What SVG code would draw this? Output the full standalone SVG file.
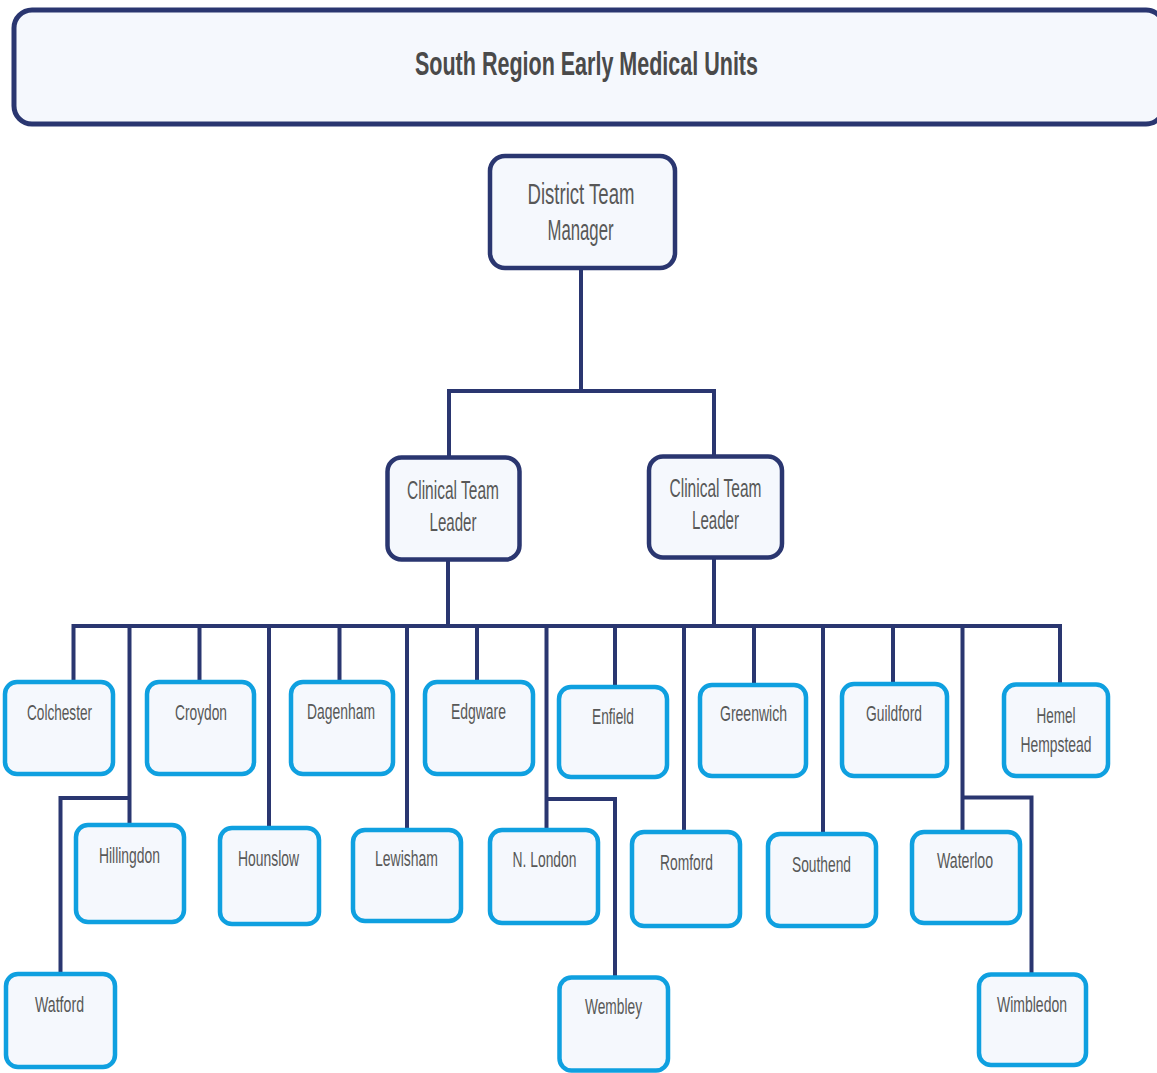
<svg xmlns="http://www.w3.org/2000/svg" width="1157" height="1073" viewBox="0 0 1157 1073">
<style>
.bg{fill:#ffffff}
.title{fill:#f5f8fd;stroke:#2a3670;stroke-width:5}
.mgr{fill:#f5f8fd;stroke:#2a3670;stroke-width:4.5}
.unit{fill:#f5f8fd;stroke:#0fa0e0;stroke-width:4.5}
.t{font-family:"Liberation Sans",Arial,sans-serif;fill:#585858;text-anchor:middle}
.tt{font-size:34px;font-weight:bold;fill:#4a4a4a}
.tm{font-size:30px}
.tl{font-size:26px}
.tu{font-size:22px}
.conn{fill:none;stroke:#2a3670;stroke-width:4;stroke-linejoin:miter}
</style>
<rect class="bg" x="0" y="0" width="1157" height="1073"/>
<g id="title">
<rect class="title" x="14" y="10" width="1150" height="114" rx="18"/>
<text class="t tt" x="586.5" y="75" textLength="343" lengthAdjust="spacingAndGlyphs">South Region Early Medical Units</text>
</g>
<g id="connectors">
<path class="conn" d="M581 268 V391 M449 391 H714 M449 389 V457 M714 389 V456"/>
<path class="conn" d="M448 560 V626 M714 558 V626 M73 626 H1061"/>
<path class="conn" d="M73.5 624 V682 M199.5 624 V682 M339.5 624 V682 M477 624 V682 M615 624 V687 M754 624 V685 M893 624 V684 M1060 624 V684"/>
<path class="conn" d="M269 624 V828 M407 624 V830 M684 624 V832 M823 624 V834"/>
<path class="conn" d="M129.5 624 V825 M131.5 798 H60.5 V974"/>
<path class="conn" d="M546.5 624 V830 M544.5 799 H615 V977"/>
<path class="conn" d="M962.5 624 V832 M960.5 797.5 H1031.5 V974"/>
</g>
<g id="district-team-manager">
<rect class="mgr" x="490" y="156" width="185" height="112" rx="15"/>
<text class="t tm" x="581" y="204" textLength="107" lengthAdjust="spacingAndGlyphs">District Team</text>
<text class="t tm" x="580.5" y="240" textLength="66" lengthAdjust="spacingAndGlyphs">Manager</text>
</g>
<g id="clinical-team-leader-1">
<rect class="mgr" x="387.5" y="457.5" width="132" height="102" rx="14"/>
<text class="t tl" x="453" y="499" textLength="92" lengthAdjust="spacingAndGlyphs">Clinical Team</text>
<text class="t tl" x="453" y="531" textLength="47" lengthAdjust="spacingAndGlyphs">Leader</text>
</g>
<g id="clinical-team-leader-2">
<rect class="mgr" x="649" y="456.5" width="133" height="101" rx="14"/>
<text class="t tl" x="715.5" y="497" textLength="92" lengthAdjust="spacingAndGlyphs">Clinical Team</text>
<text class="t tl" x="715.5" y="529" textLength="47" lengthAdjust="spacingAndGlyphs">Leader</text>
</g>
<g id="colchester">
<rect class="unit" x="5" y="682" width="108" height="92" rx="12"/>
<text class="t tu" x="59.5" y="720" textLength="65" lengthAdjust="spacingAndGlyphs">Colchester</text>
</g>
<g id="croydon">
<rect class="unit" x="147" y="682" width="107" height="92" rx="12"/>
<text class="t tu" x="201" y="720" textLength="52" lengthAdjust="spacingAndGlyphs">Croydon</text>
</g>
<g id="dagenham">
<rect class="unit" x="291" y="682" width="102" height="92" rx="12"/>
<text class="t tu" x="341" y="719" textLength="68" lengthAdjust="spacingAndGlyphs">Dagenham</text>
</g>
<g id="edgware">
<rect class="unit" x="425" y="682" width="108" height="92" rx="12"/>
<text class="t tu" x="478.5" y="719" textLength="55" lengthAdjust="spacingAndGlyphs">Edgware</text>
</g>
<g id="enfield">
<rect class="unit" x="559" y="687" width="108" height="90" rx="12"/>
<text class="t tu" x="613" y="724" textLength="42" lengthAdjust="spacingAndGlyphs">Enfield</text>
</g>
<g id="greenwich">
<rect class="unit" x="700" y="685" width="106" height="91" rx="12"/>
<text class="t tu" x="753.5" y="721" textLength="67" lengthAdjust="spacingAndGlyphs">Greenwich</text>
</g>
<g id="guildford">
<rect class="unit" x="842" y="684" width="105" height="92" rx="12"/>
<text class="t tu" x="894" y="721" textLength="56" lengthAdjust="spacingAndGlyphs">Guildford</text>
</g>
<g id="hemel-hempstead">
<rect class="unit" x="1004" y="684.5" width="104" height="91.5" rx="12"/>
<text class="t tu" x="1056" y="723" textLength="39" lengthAdjust="spacingAndGlyphs">Hemel</text>
<text class="t tu" x="1056" y="752" textLength="71" lengthAdjust="spacingAndGlyphs">Hempstead</text>
</g>
<g id="hillingdon">
<rect class="unit" x="76" y="825" width="108" height="97" rx="12"/>
<text class="t tu" x="129.5" y="863" textLength="61" lengthAdjust="spacingAndGlyphs">Hillingdon</text>
</g>
<g id="hounslow">
<rect class="unit" x="220" y="828" width="99" height="96" rx="12"/>
<text class="t tu" x="268.5" y="866" textLength="61" lengthAdjust="spacingAndGlyphs">Hounslow</text>
</g>
<g id="lewisham">
<rect class="unit" x="353" y="830" width="108" height="91" rx="12"/>
<text class="t tu" x="406.5" y="866" textLength="63" lengthAdjust="spacingAndGlyphs">Lewisham</text>
</g>
<g id="n-london">
<rect class="unit" x="490" y="830" width="108" height="93" rx="12"/>
<text class="t tu" x="544.5" y="867" textLength="64" lengthAdjust="spacingAndGlyphs">N. London</text>
</g>
<g id="romford">
<rect class="unit" x="632" y="832" width="108" height="94" rx="12"/>
<text class="t tu" x="686.5" y="870" textLength="53" lengthAdjust="spacingAndGlyphs">Romford</text>
</g>
<g id="southend">
<rect class="unit" x="768" y="834" width="108" height="92" rx="12"/>
<text class="t tu" x="821.5" y="872" textLength="59" lengthAdjust="spacingAndGlyphs">Southend</text>
</g>
<g id="waterloo">
<rect class="unit" x="912" y="832" width="108" height="91" rx="12"/>
<text class="t tu" x="965" y="868" textLength="56" lengthAdjust="spacingAndGlyphs">Waterloo</text>
</g>
<g id="watford">
<rect class="unit" x="6" y="974" width="109" height="93" rx="12"/>
<text class="t tu" x="59.5" y="1012" textLength="49" lengthAdjust="spacingAndGlyphs">Watford</text>
</g>
<g id="wembley">
<rect class="unit" x="559.5" y="977.5" width="108.5" height="93" rx="12"/>
<text class="t tu" x="613.5" y="1014" textLength="57" lengthAdjust="spacingAndGlyphs">Wembley</text>
</g>
<g id="wimbledon">
<rect class="unit" x="979" y="974.5" width="107" height="90.5" rx="12"/>
<text class="t tu" x="1032" y="1012" textLength="70" lengthAdjust="spacingAndGlyphs">Wimbledon</text>
</g>
</svg>
